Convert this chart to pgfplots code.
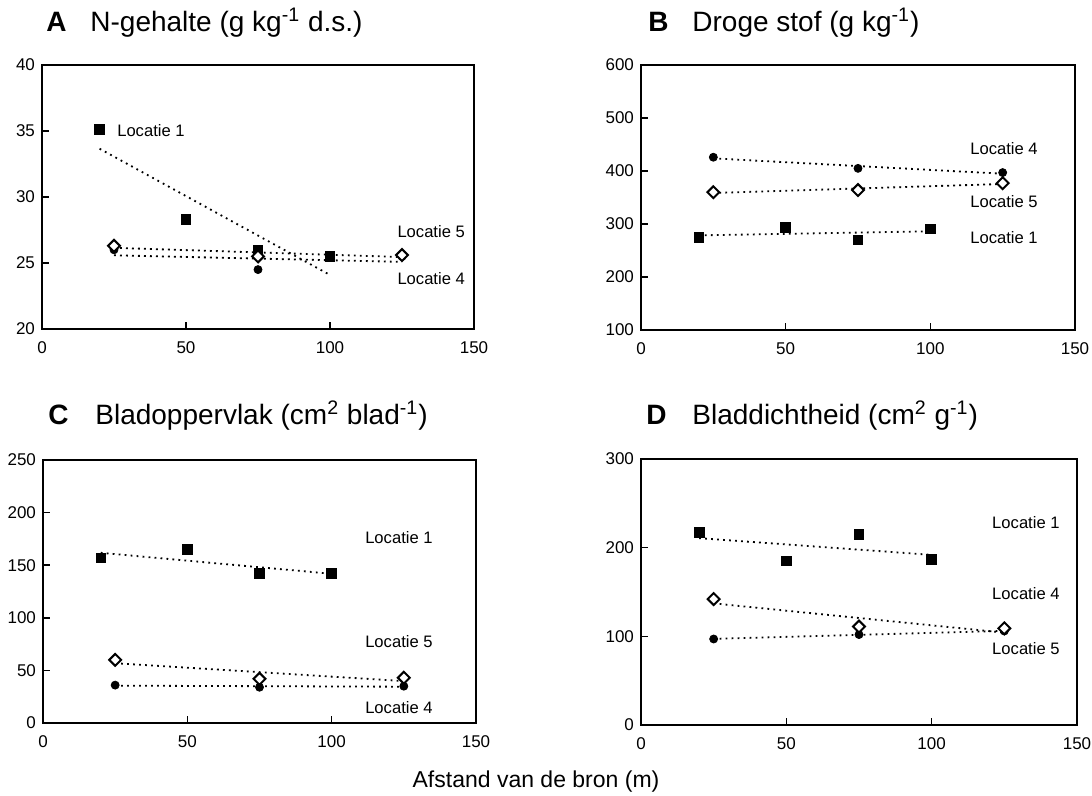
\documentclass[border=0pt]{standalone}
\usepackage{fontspec}
\setmainfont{Liberation Sans}
\usepackage{pgfplots}
\usepackage{pgfplotstable}
\pgfplotsset{compat=1.18}

% A: N-gehalte
\pgfplotstableread{
x y
20 35.1
50 28.3
75 26.0
100 25.5
}\aOne
\pgfplotstableread{
x y
25 26.0
75 24.5
125 25.5
}\aFour
\pgfplotstableread{
x y
25 26.3
75 25.5
125 25.6
}\aFive
% B: droge stof
\pgfplotstableread{
x y
20 275
50 294
75 270
100 291
}\bOne
\pgfplotstableread{
x y
25 426
75 405
125 397
}\bFour
\pgfplotstableread{
x y
25 360
75 364
125 377
}\bFive
% C: bladoppervlak
\pgfplotstableread{
x y
20 157
50 165
75 142
100 142
}\cOne
\pgfplotstableread{
x y
25 36
75 34
125 35
}\cFour
\pgfplotstableread{
x y
25 60
75 42
125 43
}\cFive
% D: bladdichtheid
\pgfplotstableread{
x y
20 217
50 185
75 215
100 187
}\dOne
\pgfplotstableread{
x y
25 97
75 102
125 106
}\dFour
\pgfplotstableread{
x y
25 142
75 111
125 109
}\dFive

\pgfplotsset{
  panel/.style={
    scale only axis, anchor=south west, clip=false,
    xmin=0, xmax=150, xtick={0,50,100,150},
    axis line style={line width=1.2pt},
    axis background/.style={draw=black, line width=1.2pt},
    tick align=inside, tick pos=left,
    major tick length=3.5pt,
    tick style={line width=0.8pt, black},
    ticklabel style={font=\fontsize{8.5}{10}\selectfont},
    xticklabel style={yshift=-3pt},
    /pgf/number format/assume math mode=true,
  },
  trend/.style={black, line width=0.9pt, dash pattern=on 0.9pt off 2.1pt, no markers},
  sq/.style={only marks, mark=square*, mark size=2.4pt, black, line width=0.4pt},
  ci/.style={only marks, mark=*, mark size=2pt, black, line width=0.4pt},
  di/.style={only marks, mark=square*, mark size=2.1pt, line width=1pt,
    mark options={rotate=45, fill=white, draw=black, line width=1pt}},
}
\tikzset{loc/.style={font=\fontsize{8.3}{9}\selectfont, anchor=west, inner sep=0pt}}
\newcommand{\series}[3]{%
  \addplot[trend] table[y={create col/linear regression={y=y}}] {#1};
  \addplot[trend] table[y={create col/linear regression={y=y}}] {#2};
  \addplot[trend] table[y={create col/linear regression={y=y}}] {#3};
  \addplot[sq] table {#1};
  \addplot[ci] table {#2};
  \addplot[di] table {#3};
}

\begin{document}
\begin{tikzpicture}
\useasboundingbox (0pt,0pt) rectangle (546pt,-398pt);

\begin{axis}[panel, at={(21pt,-164.5pt)}, width=216pt, height=132pt,
  ymin=20, ymax=40, ytick={20,25,...,40}]
\series{\aOne}{\aFour}{\aFive}
\node[loc] at (axis cs:26,35.0) {Locatie 1};
\node[loc] at (axis cs:123.3,27.4) {Locatie 5};
\node[loc] at (axis cs:123.3,23.8) {Locatie 4};
\end{axis}

\begin{axis}[panel, at={(320.5pt,-165pt)}, width=217pt, height=132.5pt,
  ymin=100, ymax=600, ytick={100,200,...,600}]
\series{\bOne}{\bFour}{\bFive}
\node[loc] at (axis cs:113.7,443) {Locatie 4};
\node[loc] at (axis cs:113.7,342) {Locatie 5};
\node[loc] at (axis cs:113.7,275) {Locatie 1};
\end{axis}

\begin{axis}[panel, at={(21.5pt,-361.5pt)}, width=216.5pt, height=131.5pt,
  ymin=0, ymax=250, ytick={0,50,...,250}]
\series{\cOne}{\cFour}{\cFive}
\node[loc] at (axis cs:111.5,176.5) {Locatie 1};
\node[loc] at (axis cs:111.5,77.3) {Locatie 5};
\node[loc] at (axis cs:111.5,14.6) {Locatie 4};
\end{axis}

\begin{axis}[panel, at={(320.5pt,-362.5pt)}, width=218pt, height=133pt,
  ymin=0, ymax=300, ytick={0,100,200,300}]
\series{\dOne}{\dFour}{\dFive}
\node[loc] at (axis cs:120.7,228) {Locatie 1};
\node[loc] at (axis cs:120.7,148.5) {Locatie 4};
\node[loc] at (axis cs:120.7,86.5) {Locatie 5};
\end{axis}

% panel titles
\begin{scope}[every node/.style={anchor=base west, inner sep=0pt, font=\fontsize{14}{16}\selectfont}]
\node at (23pt,-16pt) {\textbf{A}};
\node at (45pt,-16pt) {N-gehalte (g kg\textsuperscript{-1} d.s.)};
\node at (324pt,-16pt) {\textbf{B}};
\node at (346pt,-16pt) {Droge stof (g kg\textsuperscript{-1})};
\node at (24pt,-212.5pt) {\textbf{C}};
\node at (47.5pt,-212.5pt) {Bladoppervlak (cm\textsuperscript{2} blad\textsuperscript{-1})};
\node at (323pt,-212.5pt) {\textbf{D}};
\node at (346pt,-212.5pt) {Bladdichtheid (cm\textsuperscript{2} g\textsuperscript{-1})};
\end{scope}
\node[anchor=base, inner sep=0pt, font=\fontsize{11.5}{13}\selectfont] at (268pt,-393.5pt) {Afstand van de bron (m)};
\end{tikzpicture}
\end{document}
